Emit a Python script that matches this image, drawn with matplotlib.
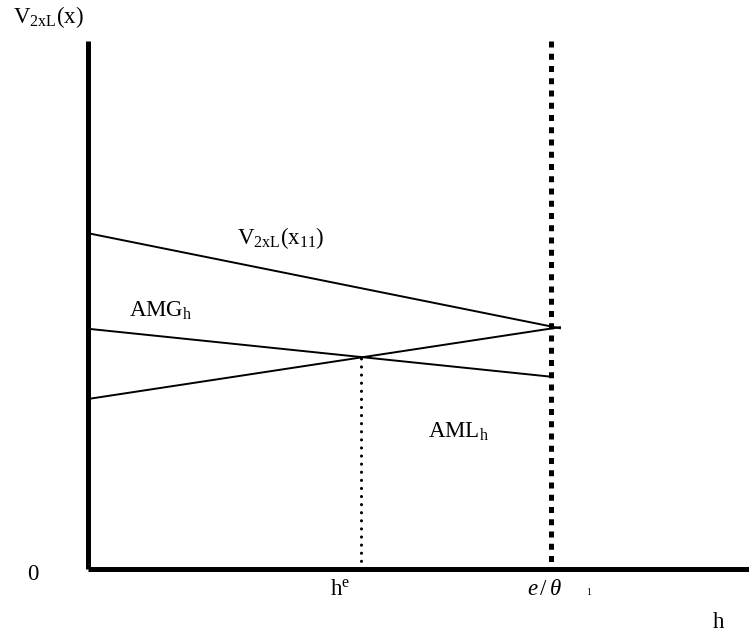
import numpy as np
import matplotlib
matplotlib.use("Agg")
import matplotlib.pyplot as plt

plt.rcParams["font.family"] = "Liberation Serif"
plt.rcParams["mathtext.fontset"] = "custom"
plt.rcParams["mathtext.rm"] = "Liberation Serif"
plt.rcParams["mathtext.it"] = "Liberation Serif:italic"

# Line endpoints (h, value)
v_x11_h = [0, 71.4]
v_x11_v = [63.6, 45.6]
amg_h = [0, 70.2]
amg_v = [45.5, 36.4]
aml_h = [0, 71.4]
aml_v = [32.2, 45.8]

h_e = 41.3       # equilibrium point
e_theta = 70.0   # e / theta_1 threshold
y_top = 100.0

fig = plt.figure(figsize=(7.49, 6.32), dpi=100)
ax = fig.add_axes([0.1175, 0.0997, 0.8825, 0.8354])
ax.set_xlim(0, 100)
ax.set_ylim(0, 100)

for s in ["top", "right"]:
    ax.spines[s].set_visible(False)
for s in ["left", "bottom"]:
    ax.spines[s].set_linewidth(3.6)
    ax.spines[s].set_capstyle("butt")
ax.set_xticks([])
ax.set_yticks([])

lw = 1.4
ax.plot(v_x11_h, v_x11_v, color="black", lw=lw, clip_on=False)
ax.plot(amg_h, amg_v, color="black", lw=lw, clip_on=False)
ax.plot(aml_h, aml_v, color="black", lw=lw, clip_on=False)

# dotted drop line at h^e, up to the AMG line
y_he = np.interp(h_e, amg_h, amg_v)
ax.plot([h_e, h_e], [0, y_he], color="black", lw=2.2,
        linestyle=(0, (0.05, 2.6)), dash_capstyle="round", clip_on=False)

# heavy dashed line at e/theta_1, drawn top-down so it starts with a full dash
ax.plot([e_theta, e_theta], [y_top, 0], color="black", lw=3.6,
        linestyle=(0, (1.2, 1.25)), dash_capstyle="butt", clip_on=False)

fs = 16.5
ax.text(-11.3, 103.4, r"$\mathrm{V}_{\mathrm{2xL}}\mathrm{(x)}$", fontsize=fs,
        va="baseline", ha="left", clip_on=False)
ax.text(22.5, 61.6, r"$\mathrm{V}_{\mathrm{2xL}}\mathrm{(x}_{\mathrm{11}}\mathrm{)}$",
        fontsize=fs, va="baseline", ha="left")
ax.text(6.2, 47.7, r"$\mathrm{AMG}_{\mathrm{h}}$", fontsize=fs,
        va="baseline", ha="left")
ax.text(51.4, 24.8, r"$\mathrm{AML}_{\mathrm{h}}$", fontsize=fs,
        va="baseline", ha="left")
ax.text(-9.2, -2.1, "0", fontsize=fs, va="baseline", ha="left", clip_on=False)
ax.text(36.6, -4.9, r"$\mathrm{h}^{\mathrm{e}}$", fontsize=fs,
        va="baseline", ha="left", clip_on=False)
ax.text(66.4, -4.9, r"$e\,/\,\theta$", fontsize=fs,
        va="baseline", ha="left", clip_on=False)
ax.text(75.3, -4.9, "1", fontsize=7, va="baseline", ha="left", clip_on=False)
ax.text(94.6, -11.2, "h", fontsize=fs, va="baseline", ha="left", clip_on=False)

fig.savefig("out.png", dpi=100)
